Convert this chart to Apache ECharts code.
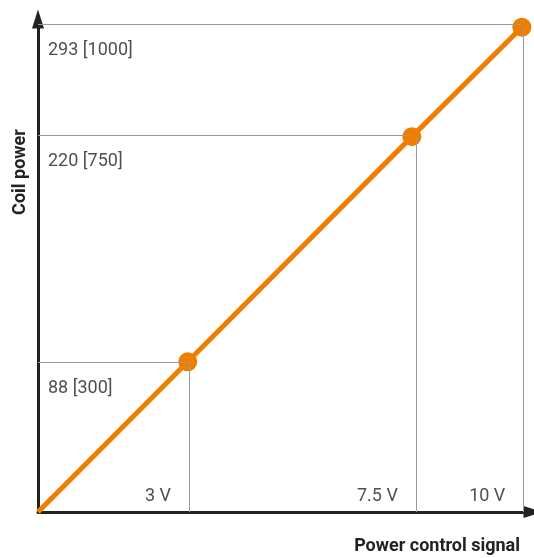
<!DOCTYPE html>
<html>
<head>
<meta charset="utf-8">
<script src="https://cdn.jsdelivr.net/npm/echarts@6/dist/echarts.min.js"></script>
<style>
html,body{margin:0;padding:0;background:#fff;}
#chart{width:534px;height:558px;}
</style>
</head>
<body>
<div id="chart"></div>
<script>
// Data (x in volts, y in W)
const signalV = [0, 3.095, 7.726, 10];
const coilPower = [0, 90.85, 226.9, 293];
// guide line positions
const guideX = [3.12, 7.81, 10.03];
const guideY = [90.7, 227.9, 295.0];
// tick labels
const xTickLabels = ['3 V', '7.5 V', '10 V'];
const yTickLabels = ['88 [300]', '220 [750]', '293 [1000]'];
const xTitle = 'Power control signal';
const yTitle = 'Coil power';

const ORANGE = '#EF7D00';
const AXIS = '#222222';
const GUIDE = '#9a9a9a';

const lineData = signalV.map((v, i) => [v, coilPower[i]]);

const guideSegments = [];
for (let i = 0; i < guideX.length; i++) {
  guideSegments.push([{coord: [guideX[i], 0]}, {coord: [guideX[i], coilPower[i + 1]]}]);
  guideSegments.push([{coord: [0, guideY[i]]}, {coord: [signalV[i + 1], guideY[i]]}]);
}

const chart = echarts.init(document.getElementById('chart'), null, {renderer: 'canvas'});
chart.setOption({
  animation: false,
  backgroundColor: '#fff',
  grid: {left: 38, right: 1, top: 19, bottom: 46, containLabel: false},
  xAxis: {
    type: 'value', min: 0, max: 10.23,
    axisLine: {show: true, symbol: ['none', 'triangle'], symbolSize: [12, 19], lineStyle: {color: AXIS, width: 3}},
    axisTick: {show: false}, axisLabel: {show: false}, splitLine: {show: false}
  },
  yAxis: {
    type: 'value', min: 0, max: 298,
    axisLine: {show: true, symbol: ['none', 'triangle'], symbolSize: [12, 19], lineStyle: {color: AXIS, width: 3}},
    axisTick: {show: false}, axisLabel: {show: false}, splitLine: {show: false}
  },
  graphic: [
    {type: 'text', x: 20, y: 172, rotation: Math.PI / 2,
     style: {text: yTitle, font: 'bold 18px Roboto', fill: AXIS, align: 'center', verticalAlign: 'middle'}},
    {type: 'text', x: 520, y: 546,
     style: {text: xTitle, font: 'bold 18px Roboto', fill: AXIS, align: 'right', verticalAlign: 'middle'}}
  ],
  series: [
    {
      type: 'line',
      data: lineData,
      z: 3,
      symbol: 'circle',
      symbolSize: (val, p) => p.dataIndex === 0 ? 0 : 19,
      showAllSymbol: true,
      lineStyle: {color: ORANGE, width: 5},
      itemStyle: {color: ORANGE},
      markLine: {
        silent: true, symbol: ['none', 'none'], animation: false,
        label: {show: false},
        lineStyle: {color: GUIDE, width: 1, type: 'solid'},
        data: guideSegments
      }
    },
    {
      type: 'scatter', symbolSize: 0, z: 4,
      data: guideY.map((g, i) => ({value: [0, g], label: {formatter: yTickLabels[i]}})),
      label: {show: true, position: [10, 27], align: 'left', verticalAlign: 'middle',
              fontFamily: 'Roboto', fontSize: 18, color: AXIS}
    },
    {
      type: 'scatter', symbolSize: 0, z: 4,
      data: guideX.map((g, i) => ({value: [g, 0], label: {formatter: xTickLabels[i]}})),
      label: {show: true, position: [-18, -16], align: 'right', verticalAlign: 'middle',
              fontFamily: 'Roboto', fontSize: 18, color: AXIS}
    }
  ]
});
</script>
</body>
</html>
